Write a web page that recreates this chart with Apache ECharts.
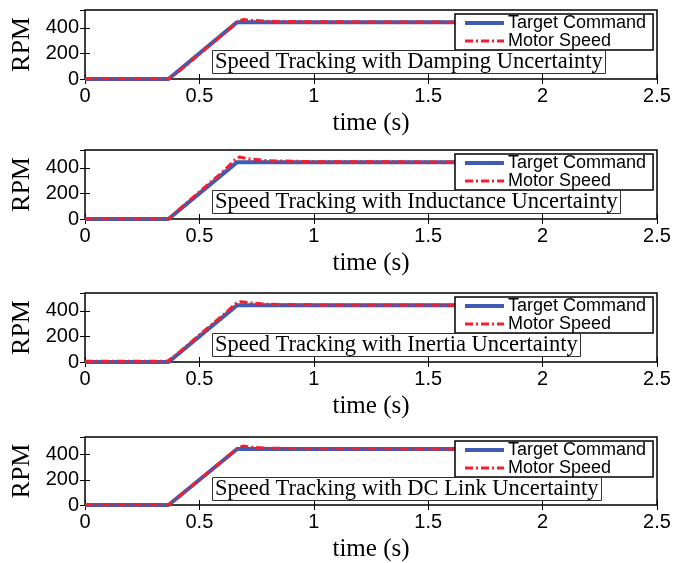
<!DOCTYPE html>
<html>
<head>
<meta charset="utf-8">
<script src="https://cdn.jsdelivr.net/npm/echarts@6/dist/echarts.min.js"></script>
<style>
  html, body { margin: 0; padding: 0; background: #fff; }
  #chart { width: 689px; height: 563px; }
</style>
</head>
<body>
<div id="chart"></div>
<script>
// Speed reference shared by all four test cases (time in s, speed in RPM)
const targetTime = [0, 0.365, 0.665, 2.46];
const targetRpm = [0, 0, 445, 445];

// Measured motor speed for each uncertainty case
const dampingTime = [0, 0.365, 0.40, 0.50, 0.60, 0.665, 0.69, 0.72, 0.80, 1.0, 1.6, 2.46];
const dampingRpm = [0, 0, 45, 195, 345, 442, 466, 460, 452, 448, 445, 445];

const inductanceTime = [0, 0.365, 0.40, 0.50, 0.60, 0.655, 0.675, 0.72, 0.80, 1.0, 1.6, 2.46];
const inductanceRpm = [0, 0, 58, 212, 366, 462, 485, 470, 456, 449, 446, 445];

const inertiaTime = [0, 0.36, 0.40, 0.50, 0.60, 0.66, 0.68, 0.72, 0.80, 1.0, 1.6, 2.46];
const inertiaRpm = [6, 6, 58, 212, 362, 458, 472, 463, 452, 447, 445, 445];

const dcLinkTime = [0, 0.365, 0.40, 0.50, 0.60, 0.665, 0.69, 0.72, 0.80, 1.0, 1.6, 2.46];
const dcLinkRpm = [0, 0, 50, 200, 350, 448, 468, 460, 451, 447, 445, 445];

const panelTitles = [
  'Speed Tracking with Damping Uncertainty',
  'Speed Tracking with Inductance Uncertainty',
  'Speed Tracking with Inertia Uncertainty',
  'Speed Tracking with DC Link Uncertainty'
];
const motorCases = [
  [dampingTime, dampingRpm],
  [inductanceTime, inductanceRpm],
  [inertiaTime, inertiaRpm],
  [dcLinkTime, dcLinkRpm]
];

// Axis ranges and tick steps
const timeMin = 0, timeMax = 2.5, timeStep = 0.5;
const rpmMin = 0, rpmMax = 540, rpmStep = 200;

const seriesNames = ['Target Command', 'Motor Speed'];

const zip = (xs, ys) => xs.map((x, i) => [x, ys[i]]);

const panelTops = [10, 150, 293, 437];
const panelHeight = 69;
const sans = 'Liberation Sans';
const serif = 'Liberation Serif';
const blue = '#3f5bb2';
const red = '#f0202e';
const targetLine = { color: blue, width: 4 };
const motorLine = { color: red, width: 3, type: [8, 3, 2, 3] };

const grid = [], xAxis = [], yAxis = [], series = [], title = [], legend = [];

panelTops.forEach((top, k) => {
  grid.push({
    left: 85, right: 32, top: top, height: panelHeight,
    show: true, borderColor: '#000', borderWidth: 1.5, backgroundColor: '#fff'
  });
  const tick = { show: true, inside: true, length: 5, lineStyle: { color: '#000', width: 1 } };
  xAxis.push({
    type: 'value', gridIndex: k, position: 'bottom',
    min: timeMin, max: timeMax, interval: timeStep,
    axisLine: { show: false }, axisTick: tick, splitLine: { show: false },
    axisLabel: { color: '#000', fontFamily: sans, fontSize: 20, margin: 7 },
    name: 'time (s)', nameLocation: 'middle', nameGap: 32,
    nameTextStyle: { color: '#000', fontFamily: serif, fontSize: 25 }
  });
  xAxis.push({
    type: 'value', gridIndex: k, position: 'top',
    min: timeMin, max: timeMax, interval: timeStep,
    axisLine: { show: false }, axisTick: tick, splitLine: { show: false },
    axisLabel: { show: false }
  });
  yAxis.push({
    type: 'value', gridIndex: k, position: 'left',
    min: rpmMin, max: rpmMax, interval: rpmStep,
    axisLine: { show: false }, axisTick: tick, splitLine: { show: false },
    axisLabel: { color: '#000', fontFamily: sans, fontSize: 20, margin: 6, showMaxLabel: false },
    name: 'RPM', nameLocation: 'middle', nameGap: 47, nameRotate: 90,
    nameTextStyle: { color: '#000', fontFamily: serif, fontSize: 26 }
  });
  yAxis.push({
    type: 'value', gridIndex: k, position: 'right',
    min: rpmMin, max: rpmMax, interval: rpmStep,
    axisLine: { show: false }, axisTick: tick, splitLine: { show: false },
    axisLabel: { show: false }
  });

  series.push({
    name: seriesNames[0], type: 'line',
    xAxisIndex: 2 * k, yAxisIndex: 2 * k,
    data: zip(targetTime, targetRpm),
    symbol: 'none', color: blue,
    lineStyle: targetLine, z: 2
  });
  series.push({
    name: seriesNames[1], type: 'line',
    xAxisIndex: 2 * k, yAxisIndex: 2 * k,
    data: zip(motorCases[k][0], motorCases[k][1]),
    symbol: 'none', color: red,
    lineStyle: motorLine, z: 3
  });

  title.push({
    text: panelTitles[k], left: 212, top: top + 42,
    textStyle: { color: '#000', fontFamily: serif, fontSize: 22.5, fontWeight: 'normal', lineHeight: 19 },
    borderColor: '#333', borderWidth: 1, backgroundColor: '#fff',
    padding: [1, 3, 0, 3]
  });

  legend.push({
    data: [
      { name: seriesNames[0], lineStyle: targetLine },
      { name: seriesNames[1], lineStyle: motorLine }
    ],
    left: 455, top: top + 4,
    orient: 'vertical', itemGap: 0, itemWidth: 39, itemHeight: 14,
    padding: [0, 7, 0, 8], backgroundColor: '#fff',
    borderColor: '#000', borderWidth: 1.5, selectedMode: false,
    itemStyle: { color: 'rgba(0,0,0,0)', borderColor: 'rgba(0,0,0,0)', borderWidth: 0 },
    textStyle: { color: '#000', fontFamily: sans, fontSize: 18, lineHeight: 17, padding: [0, 0, 0, -1] }
  });
});

const chart = echarts.init(document.getElementById('chart'), null, { renderer: 'canvas' });
chart.setOption({
  animation: false,
  backgroundColor: '#fff',
  grid, xAxis, yAxis, series, title, legend
});
</script>
</body>
</html>
